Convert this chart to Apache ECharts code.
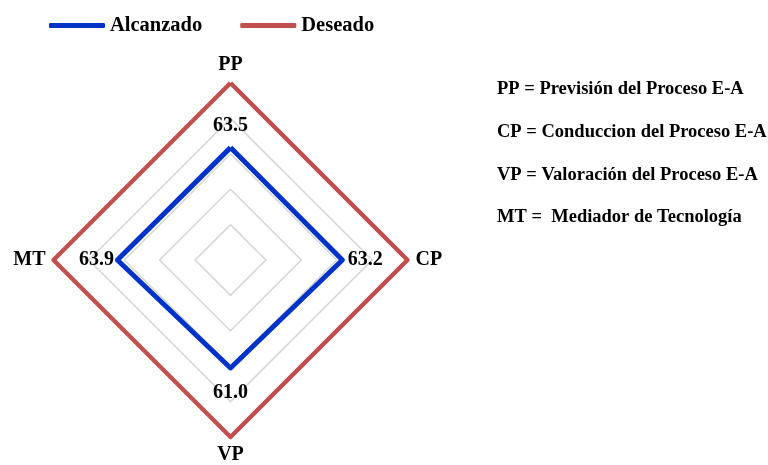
<!DOCTYPE html>
<html>
<head>
<meta charset="utf-8">
<script src="https://cdn.jsdelivr.net/npm/echarts@6/dist/echarts.min.js"></script>
<style>
  html, body { margin: 0; padding: 0; background: #fff; }
  #chart { width: 768px; height: 465px; }
</style>
</head>
<body>
<div id="chart"></div>
<script>
// indicadores en orden de dibujo (arriba, izquierda, abajo, derecha)
var categories = ['PP', 'MT', 'VP', 'CP'];
var alcanzado = [63.5, 63.9, 61.0, 63.2];
var deseado = [100, 100, 100, 100];
var labelPos = ['top', 'left', 'bottom', 'right'];
var labelDist = [11, 3, 14, 5];
var notas = [
  'PP = Previsión del Proceso E-A',
  'CP = Conduccion del Proceso E-A',
  'VP = Valoración del Proceso E-A',
  'MT =  Mediador de Tecnología'
];

var serif = '"Liberation Serif", "Times New Roman", serif';
var azul = '#0233C8';
var rojo = '#C0504D';

var myChart = echarts.init(document.getElementById('chart'));

// un item invisible por vertice, solo para poner la etiqueta en su lado
var etiquetas = alcanzado.map(function (v, i) {
  return {
    name: 'lbl' + i,
    value: alcanzado,
    symbol: 'circle',
    symbolSize: 1,
    itemStyle: { color: 'transparent' },
    lineStyle: { width: 0, color: 'transparent' },
    label: {
      show: true,
      position: labelPos[i],
      distance: labelDist[i],
      color: '#000',
      fontFamily: serif,
      fontWeight: 'bold',
      fontSize: 20,
      formatter: function (p) {
        return p.value === v ? v.toFixed(1) : '';
      }
    }
  };
});

var option = {
  animation: false,
  legend: {
    data: ['Alcanzado', 'Deseado'],
    left: 44,
    top: 10,
    icon: 'roundRect',
    itemWidth: 56,
    itemHeight: 5,
    itemGap: 38,
    textStyle: { fontFamily: serif, fontWeight: 'bold', fontSize: 20.5, color: '#000' }
  },
  radar: {
    center: [230.5, 260],
    radius: 177,
    shape: 'polygon',
    splitNumber: 5,
    indicator: categories.map(function (c) { return { name: c, max: 100, min: 0 }; }),
    axisName: { color: '#000', fontFamily: serif, fontWeight: 'bold', fontSize: 20 },
    nameGap: 8,
    axisLine: { show: false },
    splitArea: { show: false },
    splitLine: { lineStyle: { color: '#d6d6d6', width: 1.5 } }
  },
  graphic: notas.map(function (t, i) {
    return {
      type: 'text',
      left: 497,
      top: 80 + i * 42.7,
      style: { text: t, fill: '#000', font: 'bold 18.5px ' + serif }
    };
  }),
  series: [{
    type: 'radar',
    symbol: 'none',
    data: [
      { name: 'Deseado', value: deseado, lineStyle: { color: rojo, width: 4.5 }, itemStyle: { color: rojo } },
      { name: 'Alcanzado', value: alcanzado, lineStyle: { color: azul, width: 5 }, itemStyle: { color: azul } }
    ].concat(etiquetas)
  }]
};

myChart.setOption(option);
</script>
</body>
</html>
